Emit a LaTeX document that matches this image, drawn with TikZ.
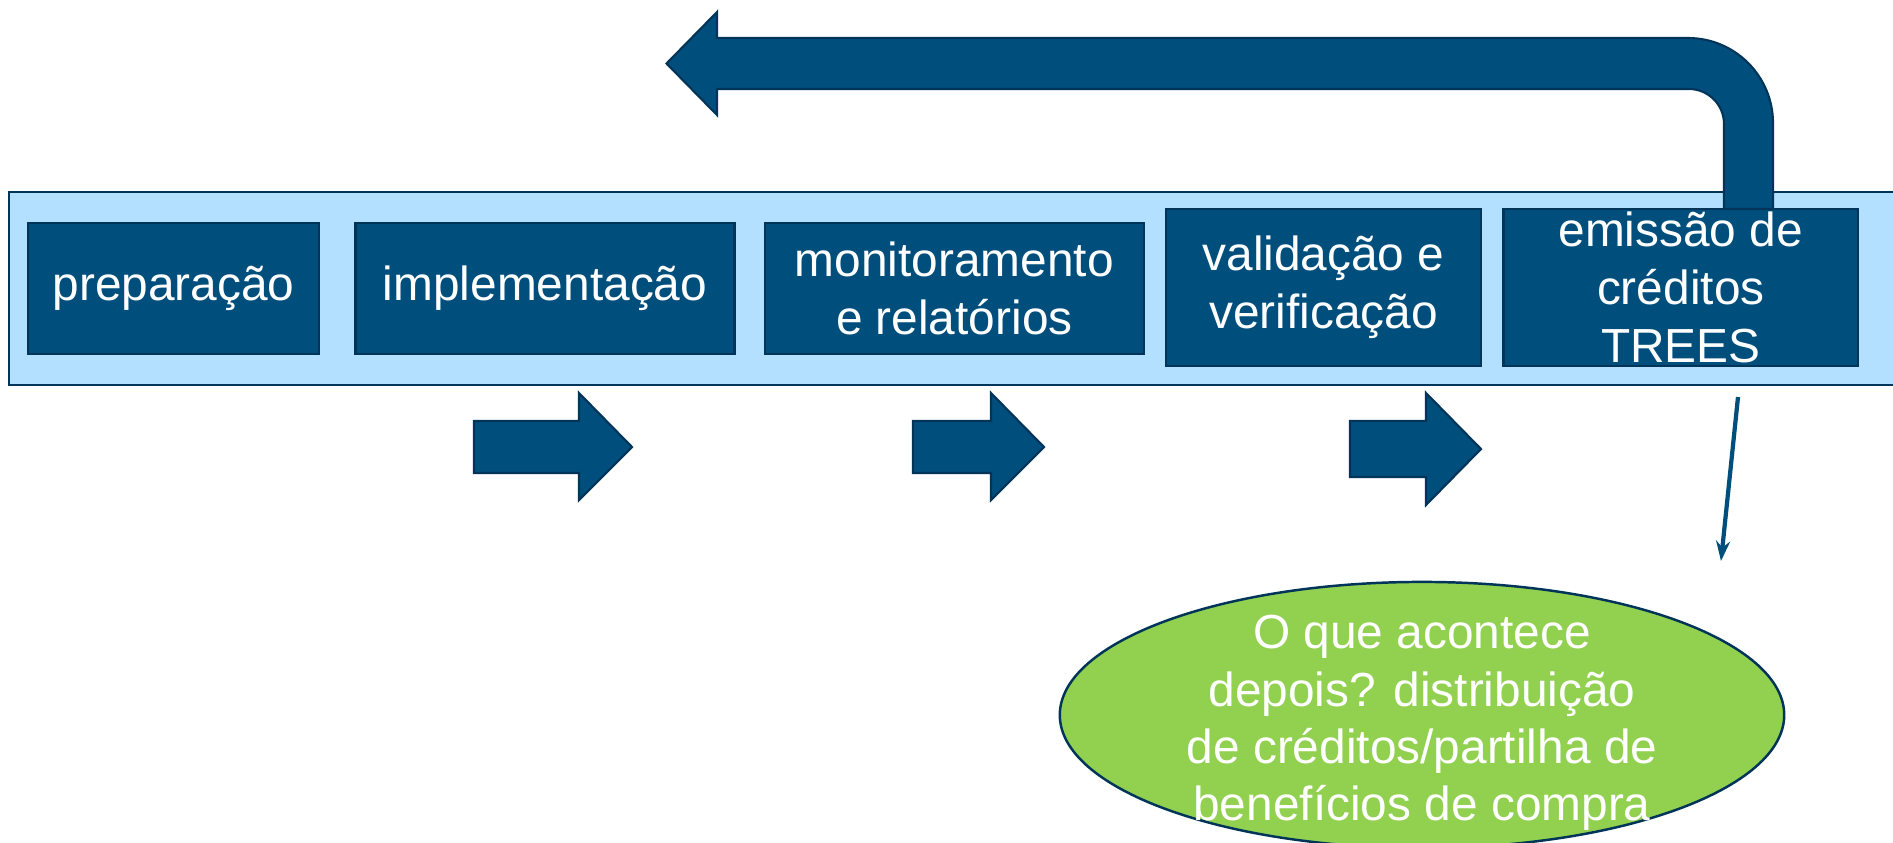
\documentclass[tikz,border=0pt]{standalone}
\usepackage{fontspec}
\setmainfont{Liberation Sans}
\usetikzlibrary{arrows.meta,shapes.geometric}
\definecolor{boxblue}{RGB}{0,78,124}
\definecolor{boxline}{RGB}{0,52,88}
\definecolor{bandblue}{RGB}{179,224,255}
\definecolor{greenfill}{RGB}{146,208,80}
\tikzset{
  stepbox/.style={draw=boxline, fill=boxblue, line width=0.6pt, text=white, inner sep=0pt,
    align=center, font=\fontsize{13.6pt}{16.4pt}\selectfont},
  blockarrow/.style={draw=boxline, fill=boxblue, line width=0.6pt},
  ellnode/.style={ellipse, draw=boxline, fill=greenfill, line width=0.7pt, inner sep=0pt},
  elltext/.style={text=white, align=center, inner sep=0pt, font=\fontsize{13.6pt}{16.3pt}\selectfont},
  thinarrow/.style={draw=boxblue, line width=1.2pt, -{Stealth[length=0.2cm,width=0.14cm]}}
}
\begin{document}
\begin{tikzpicture}[x=0.01cm, y=-0.01cm]
\useasboundingbox (0,0) rectangle (1893,842);
\clip (0,0) rectangle (1893,842);
\fill[white] (0,0) rectangle (1893,842);
% band
\draw[draw=boxline, fill=bandblue, line width=0.7pt] (9,192) rectangle (1910,385);
% boxes
\node[stepbox, minimum width=2.902cm, minimum height=1.31cm] (b1) at (173.6,288.5) {preparação};
\node[stepbox, minimum width=3.787cm, minimum height=1.31cm] (b2) at (545,288.5) {implementação};
\node[stepbox, minimum width=3.786cm, minimum height=1.31cm] (b3) at (954.3,288.5) {monitoramento\\e relatórios};
\node[stepbox, minimum width=3.15cm, minimum height=1.57cm] (b4) at (1323.5,287.5) {validação e\\verificação};
\node[stepbox, minimum width=3.545cm, minimum height=1.57cm] (b5) at (1680.8,287.5) {emissão de\\créditos\\TREES};
% top return arrow
\path[blockarrow] (1724,209) -- (1724,124) .. controls (1724,104.7) and (1708.3,89) .. (1689,89)
  -- (717,89) -- (717,115) -- (666.5,63.5) -- (717,12) -- (717,38) -- (1688,38)
  .. controls (1734.9,38) and (1773,76.1) .. (1773,123) -- (1773,209) -- cycle;
% block arrows below
\path[blockarrow] (474,421) -- (579,421) -- (579,393) -- (632,447) -- (579,500) -- (579,473) -- (474,473) -- cycle;
\path[blockarrow] (913,421) -- (991,421) -- (991,393) -- (1044,447) -- (991,500) -- (991,473) -- (913,473) -- cycle;
\path[blockarrow] (1350,421) -- (1426,421) -- (1426,393) -- (1481,449) -- (1426,505) -- (1426,477) -- (1350,477) -- cycle;
% ellipse
\node[ellnode, minimum width=7.24cm, minimum height=2.66cm] (ell) at (1422,715) {};
\node[elltext] (elltxt) at ([yshift=-0.08cm]ell.center) {O que acontece\\depois? distribuição\\de créditos/partilha de\\benefícios de compra};
% thin arrow
\coordinate (t1) at (1738,397);
\coordinate (t2) at (1721,561);
\draw[thinarrow] (t1) -- (t2);
\end{tikzpicture}
\end{document}
